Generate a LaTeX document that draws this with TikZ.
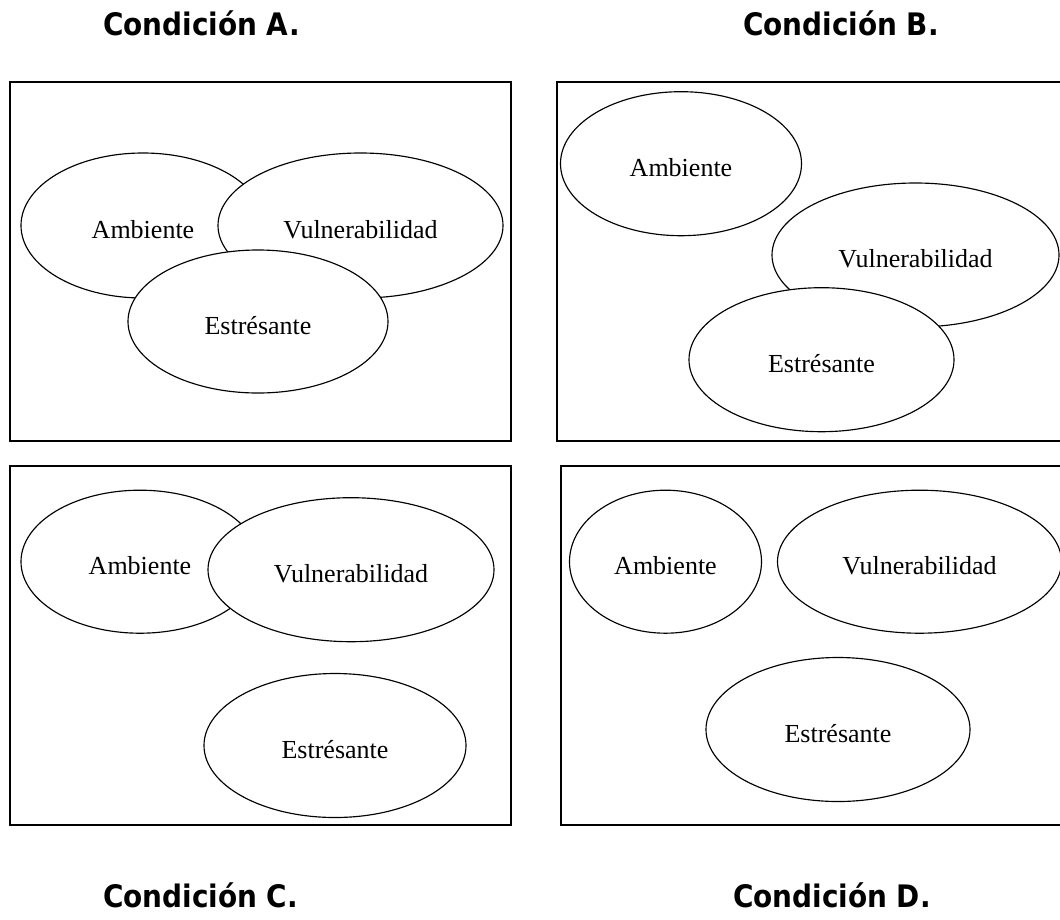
\documentclass[tikz,border=0pt]{standalone}
\usepackage{fontspec}
\setmainfont{Liberation Serif}
\newfontfamily\titlefont{DejaVu Sans Condensed}
\usetikzlibrary{shapes.geometric}
\begin{document}
\begin{tikzpicture}[x=1pt,y=-1pt,
  frame/.style={draw, line width=1.4pt},
  blob/.style={ellipse, draw, fill=white, line width=1.15pt, inner sep=0pt,
    text height=25pt, text depth=0pt,
    font=\fontsize{26}{30}\selectfont},
  ttl/.style={anchor=base west, inner sep=0pt, font=\titlefont\bfseries\fontsize{31}{36}\selectfont}]
\useasboundingbox (0,0) rectangle (1060,919);
\clip (0,0) rectangle (1060,919);
\fill[white] (0,0) rectangle (1060,919);
% titles
\node[ttl] (tA) at (103,35) {Condición A.};
\node[ttl] (tB) at (743,35) {Condición B.};
\node[ttl] (tC) at (103,907) {Condición C.};
\node[ttl] (tD) at (733,907) {Condición D.};
% frames
\draw[frame] (10,82) rectangle (511,441);
\draw[frame] (557,82) rectangle (1075,441);
\draw[frame] (10,466) rectangle (511,825);
\draw[frame] (561,466) rectangle (1075,825);
% Condition A
\node[blob, minimum width=244, minimum height=145] (aA) at (143,225.5) {Ambiente};
\node[blob, minimum width=285, minimum height=145] (aV) at (360.5,225.5) {Vulnerabilidad};
\node[blob, minimum width=260, minimum height=143] (aE) at (258,321.5) {Estrésante};
% Condition B
\node[blob, minimum width=241, minimum height=144] (bA) at (681,163.7) {Ambiente};
\node[blob, minimum width=287, minimum height=144] (bV) at (915.5,255) {Vulnerabilidad};
\node[blob, minimum width=265, minimum height=144] (bE) at (821.5,359.7) {Estrésante};
% Condition C
\node[blob, minimum width=238, minimum height=143] (cA) at (140,561.7) {Ambiente};
\node[blob, minimum width=286, minimum height=144] (cV) at (351,569.7) {Vulnerabilidad};
\node[blob, minimum width=262, minimum height=144] (cE) at (335,745.5) {Estrésante};
% Condition D
\node[blob, minimum width=192, minimum height=143] (dA) at (665.5,561.7) {Ambiente};
\node[blob, minimum width=284, minimum height=143] (dV) at (919.5,561.7) {Vulnerabilidad};
\node[blob, minimum width=264, minimum height=144] (dE) at (838,729.5) {Estrésante};
\end{tikzpicture}
\end{document}
